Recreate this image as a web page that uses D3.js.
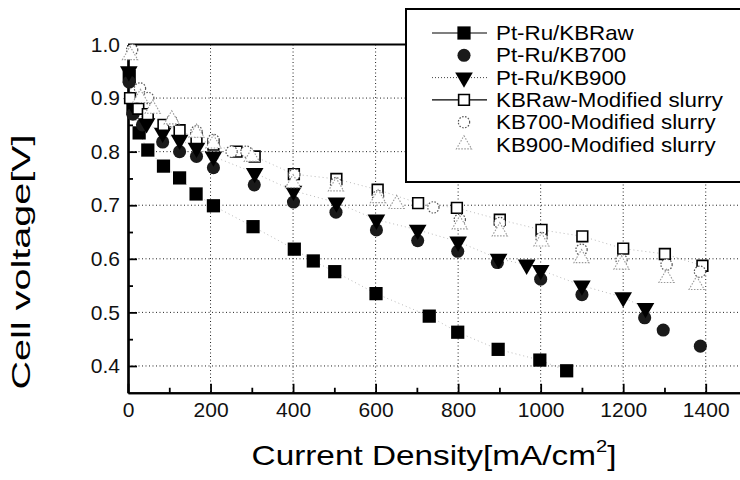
<!DOCTYPE html>
<html>
<head>
<meta charset="utf-8">
<script src="https://cdn.jsdelivr.net/npm/d3@7"></script>
<style>
  html, body { margin: 0; padding: 0; background: #fff; }
  svg { display: block; font-family: "Liberation Sans", Arial, sans-serif; }
</style>
</head>
<body>
<svg id="chart" width="740" height="480"></svg>
<script>
// ---- Data ----
const seriesNames = ["Pt-Ru/KBRaw", "Pt-Ru/KB700", "Pt-Ru/KB900",
  "KBRaw-Modified slurry", "KB700-Modified slurry", "KB900-Modified slurry"];

const kbRawX = [3, 12, 27, 48, 86, 125, 165, 207, 303, 403, 449, 501, 601, 730, 799, 897, 998, 1063];
const kbRawY = [0.94, 0.88, 0.835, 0.803, 0.773, 0.751, 0.721, 0.699, 0.660, 0.618, 0.596, 0.576, 0.535, 0.493, 0.463, 0.431, 0.411, 0.391];

const kb700X = [3, 12, 35, 84, 125, 166, 207, 306, 401, 504, 602, 702, 799, 895, 1000, 1100, 1252, 1297, 1387];
const kb700Y = [0.93, 0.87, 0.85, 0.818, 0.800, 0.791, 0.770, 0.738, 0.706, 0.687, 0.654, 0.634, 0.614, 0.593, 0.562, 0.533, 0.490, 0.467, 0.437];

const kb900X = [2, 10, 45, 84, 125, 166, 207, 307, 401, 505, 602, 702, 800, 898, 966, 1000, 1100, 1200, 1254];
const kb900Y = [0.95, 0.89, 0.853, 0.835, 0.822, 0.807, 0.791, 0.760, 0.727, 0.705, 0.673, 0.654, 0.632, 0.600, 0.589, 0.579, 0.550, 0.528, 0.508];

const modRawX = [5, 25, 48, 86, 125, 166, 207, 263, 307, 402, 505, 605, 703, 797, 901, 1002, 1101, 1200, 1301, 1392];
const modRawY = [0.90, 0.88, 0.87, 0.85, 0.84, 0.825, 0.813, 0.800, 0.791, 0.758, 0.749, 0.729, 0.704, 0.695, 0.673, 0.654, 0.642, 0.619, 0.609, 0.587];

const mod700X = [10, 29, 49, 106, 166, 207, 251, 287, 403, 504, 606, 740, 804, 901, 1002, 1099, 1196, 1305, 1386];
const mod700Y = [0.99, 0.918, 0.90, 0.857, 0.838, 0.822, 0.800, 0.800, 0.757, 0.741, 0.717, 0.696, 0.673, 0.667, 0.639, 0.617, 0.598, 0.589, 0.576];

const mod900X = [5, 30, 60, 106, 166, 207, 300, 400, 504, 606, 651, 804, 901, 1002, 1099, 1196, 1305, 1378];
const mod900Y = [0.98, 0.90, 0.88, 0.86, 0.835, 0.815, 0.790, 0.741, 0.735, 0.713, 0.702, 0.664, 0.651, 0.632, 0.601, 0.589, 0.564, 0.551];

const xTickValues = [0, 200, 400, 600, 800, 1000, 1200, 1400];
const yTickValues = [0.4, 0.5, 0.6, 0.7, 0.8, 0.9, 1.0];
const xTitle = "Current Density[mA/cm";
const yTitle = "Cell voltage[V]";

// ---- Layout ----
const svg = d3.select("#chart");
const pL = 128, pR = 747, pT = 44.5, pB = 392.75;
const x = d3.scaleLinear().domain([0, 1500]).range([pL, pR]);
const y = d3.scaleLinear().domain([0.35, 1.0]).range([pB, pT]);

// grid
const grid = svg.append("g");
grid.selectAll("line.v").data(xTickValues.filter(d => d > 0)).enter().append("line")
  .attr("x1", d => x(d)).attr("x2", d => x(d)).attr("y1", pT).attr("y2", pB)
  .attr("stroke", "#222").attr("stroke-width", 1).attr("stroke-dasharray", "1,2.5");
grid.selectAll("line.h").data(yTickValues.filter(d => d < 1)).enter().append("line")
  .attr("x1", pL).attr("x2", pR).attr("y1", d => y(d)).attr("y2", d => y(d))
  .attr("stroke", "#222").attr("stroke-width", 1).attr("stroke-dasharray", "1,2.5");

// axes
const xAxis = d3.axisBottom(x).tickValues(xTickValues).tickSizeInner(-9).tickSizeOuter(0).tickPadding(9).tickFormat(d3.format("d"));
const xMinor = d3.axisBottom(x).tickValues(d3.range(100, 1500, 200)).tickSizeInner(-5).tickSizeOuter(0).tickFormat("");
const yAxis = d3.axisLeft(y).tickValues(yTickValues).tickSizeInner(-9).tickSizeOuter(0).tickPadding(8).tickFormat(d3.format(".1f"));
const yMinor = d3.axisLeft(y).tickValues([0.45, 0.55, 0.65, 0.75, 0.85, 0.95]).tickSizeInner(-5).tickSizeOuter(0).tickFormat("");

function styleAxis(g) {
  g.select(".domain").attr("stroke", "#000").attr("stroke-width", 2.2);
  g.selectAll(".tick line").attr("stroke", "#000").attr("stroke-width", 1.8);
  g.selectAll(".tick text").attr("fill", "#111").attr("font-size", 21)
    .attr("font-family", "'Liberation Sans', Arial, sans-serif");
}
svg.append("g").attr("transform", `translate(0,${pB})`).call(xMinor).call(styleAxis);
svg.append("g").attr("transform", `translate(0,${pB})`).call(xAxis).call(styleAxis);
svg.append("g").attr("transform", `translate(${pL},0)`).call(yMinor).call(styleAxis);
svg.append("g").attr("transform", `translate(${pL},0)`).call(yAxis).call(styleAxis);
// top frame
svg.append("line").attr("x1", pL).attr("x2", pR).attr("y1", pT).attr("y2", pT)
  .attr("stroke", "#000").attr("stroke-width", 2.2);

// ---- Series ----
const sq = d3.symbol().type(d3.symbolSquare).size(175);
const sqOpen = d3.symbol().type(d3.symbolSquare).size(115);
const circ = d3.symbol().type(d3.symbolCircle).size(135);
const circOpen = d3.symbol().type(d3.symbolCircle).size(100);
const triDown = d3.symbol().type(d3.symbolTriangle).size(135);
const triOpen = d3.symbol().type(d3.symbolTriangle).size(100);

const series = [
  { xs: kbRawX, ys: kbRawY, sym: sq, fill: "#000", stroke: "none", sw: 0, dash: null, rot: 0, line: "1,3" },
  { xs: kb700X, ys: kb700Y, sym: circ, fill: "#1a1a1a", stroke: "none", sw: 0, dash: null, rot: 0, line: null },
  { xs: kb900X, ys: kb900Y, sym: triDown, fill: "#000", stroke: "none", sw: 0, dash: null, rot: 180, line: "1,3" },
  { xs: modRawX, ys: modRawY, sym: sqOpen, fill: "#fff", stroke: "#000", sw: 1.6, dash: null, rot: 0, line: "1,3" },
  { xs: mod700X, ys: mod700Y, sym: circOpen, fill: "#fff", stroke: "#555", sw: 1.2, dash: "1.5,1.5", rot: 0, line: null },
  { xs: mod900X, ys: mod900Y, sym: triOpen, fill: "#fff", stroke: "#999", sw: 1.1, dash: "1.5,1.5", rot: 0, line: null }
];

const lineGen = d3.line().x(d => x(d[0])).y(d => y(d[1]));
series.forEach(s => {
  if (s.line) {
    svg.append("path").datum(d3.zip(s.xs, s.ys)).attr("d", lineGen)
      .attr("fill", "none").attr("stroke", "#666").attr("stroke-width", 1)
      .attr("stroke-dasharray", s.line).attr("opacity", 0.45);
  }
});
series.forEach(s => {
  svg.append("g").selectAll("path").data(d3.zip(s.xs, s.ys)).enter().append("path")
    .attr("d", s.sym)
    .attr("transform", d => `translate(${x(d[0])},${y(d[1])}) rotate(${s.rot})`)
    .attr("fill", s.fill).attr("stroke", s.stroke).attr("stroke-width", s.sw)
    .attr("stroke-dasharray", s.dash);
});

// ---- Legend ----
const lg = svg.append("g");
lg.append("rect").attr("x", 406).attr("y", 9).attr("width", 345).attr("height", 173)
  .attr("fill", "#fff").attr("stroke", "#000").attr("stroke-width", 2);
const legendTexts = [];
seriesNames.forEach((name, i) => {
  const s = series[i];
  const cy = 33 + i * 22.3;
  if (i === 0 || i === 3) {
    lg.append("line").attr("x1", 432).attr("x2", 487).attr("y1", cy).attr("y2", cy)
      .attr("stroke", "#000").attr("stroke-width", 1.2);
  } else if (i === 2) {
    lg.append("line").attr("x1", 432).attr("x2", 487).attr("y1", cy).attr("y2", cy)
      .attr("stroke", "#444").attr("stroke-width", 1).attr("stroke-dasharray", "1,2");
  }
  lg.append("path").attr("d", s.sym)
    .attr("transform", `translate(464,${cy}) rotate(${s.rot})`)
    .attr("fill", s.fill).attr("stroke", s.stroke).attr("stroke-width", s.sw)
    .attr("stroke-dasharray", s.dash);
  const t = lg.append("g").attr("transform", `translate(496,${cy + 7})`)
    .append("text").attr("x", 0).attr("y", 0).attr("font-size", 20).attr("fill", "#000").text(name);
  legendTexts.push(t);
});
const refW = legendTexts[3].node().getComputedTextLength();
const lgScale = 227 / refW;
legendTexts.forEach(t => t.attr("transform", `scale(${lgScale},1)`));

// ---- Titles ----
const xt = svg.append("g").attr("transform", "translate(434,465)");
const xtText = xt.append("text").attr("text-anchor", "middle").attr("font-size", 28).attr("fill", "#000");
xtText.append("tspan").text(xTitle);
xtText.append("tspan").attr("font-size", 17).attr("dy", -13).text("2");
xtText.append("tspan").attr("dy", 13).text("]");
const xw = xtText.node().getComputedTextLength();
xtText.attr("transform", `scale(${365 / xw},1)`);

const yt = svg.append("g").attr("transform", "translate(30,262) rotate(-90)");
const ytText = yt.append("text").attr("text-anchor", "middle").attr("font-size", 25).attr("fill", "#000").text(yTitle);
const yw = ytText.node().getComputedTextLength();
ytText.attr("transform", `scale(${255 / yw},1)`);
</script>
</body>
</html>
